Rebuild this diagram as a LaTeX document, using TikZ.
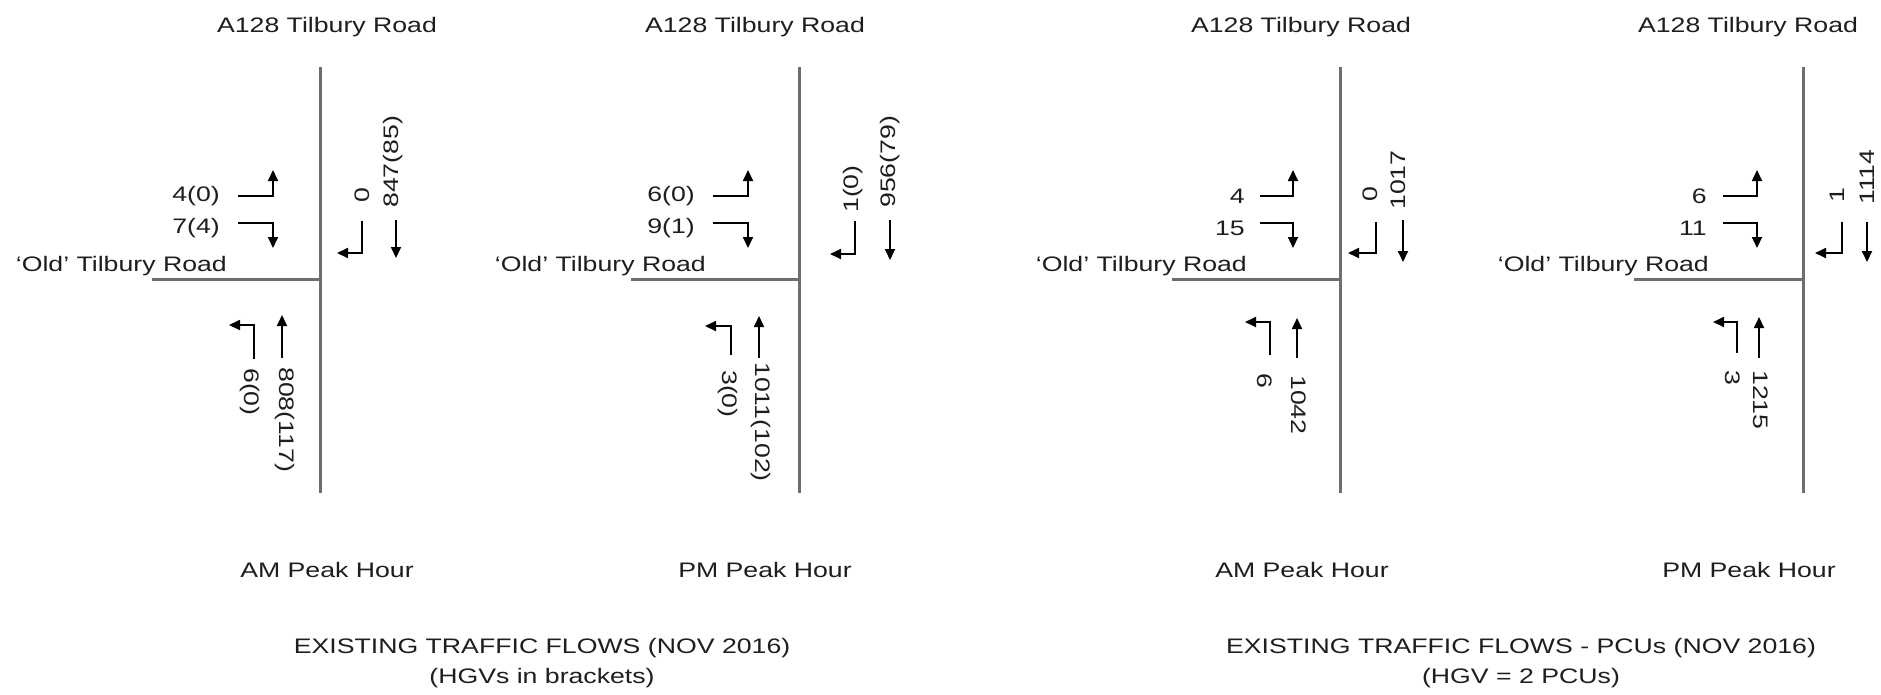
\documentclass[tikz,border=0pt]{standalone}
\usepackage{fontspec}
\usetikzlibrary{arrows.meta}
\newfontfamily\labfont[FakeStretch=1.27]{Liberation Sans}
\definecolor{roadgray}{HTML}{6E6E6E}
\definecolor{txt}{HTML}{1E1E1E}
\begin{document}
\begin{tikzpicture}[x=1pt,y=-1pt,
  road/.style={draw=roadgray, line width=3pt},
  flow/.style={draw=black, line width=1.8pt, -{Triangle[length=11pt,width=10pt]}},
  lbl/.style={inner sep=0pt, text=txt, font={\labfont\fontsize{21}{25}\selectfont}},
  up/.style={lbl, rotate=90, anchor=west},
  dn/.style={lbl, rotate=-90, anchor=west},
  lt/.style={lbl, anchor=east}]
\useasboundingbox[fill=white] (0,0) rectangle (1881,694);

% ---------- Diagram 1: AM (HGVs) ----------
\draw[road] (320,67) -- (320,493);
\draw[road] (152,279) -- (320,279);
\node[lbl] (t1) at (327,27) {A128 Tilbury Road};
\node[lt] (a1) at (220,196) {4(0)};
\draw[flow] (238,196) -- (273,196) -- (273,170);
\node[lt] (b1) at (220,228) {7(4)};
\draw[flow] (238,223) -- (273,223) -- (273,248);
\node[lbl, anchor=base east] (o1) at (227,271) {‘Old’ Tilbury Road};
\node[up] (c1) at (362,203) {0};
\draw[flow] (362,221) -- (362,253) -- (337,253);
\node[up] (d1) at (393,208) {847(85)};
\draw[flow] (396,220) -- (396,258);
\draw[flow] (254,359) -- (254,325) -- (229,325);
\node[dn] (e1) at (250,368) {6(0)};
\draw[flow] (282,358) -- (282,315);
\node[dn] (f1) at (285,367) {808(117)};
\node[lbl] (p1) at (327,570) {AM Peak Hour};

% ---------- Diagram 2: PM (HGVs) ----------
\draw[road] (799,67) -- (799,493);
\draw[road] (631,279) -- (799,279);
\node[lbl] (t2) at (755,27) {A128 Tilbury Road};
\node[lt] (a2) at (695,196) {6(0)};
\draw[flow] (713,196) -- (748,196) -- (748,170);
\node[lt] (b2) at (695,228) {9(1)};
\draw[flow] (713,223) -- (748,223) -- (748,248);
\node[lbl, anchor=base east] (o2) at (706,271) {‘Old’ Tilbury Road};
\node[up] (c2) at (853,213) {1(0)};
\draw[flow] (855,221) -- (855,254) -- (830,254);
\node[up] (d2) at (890,208) {956(79)};
\draw[flow] (890,220) -- (890,260);
\draw[flow] (731,355) -- (731,326) -- (705,326);
\node[dn] (e2) at (728,370) {3(0)};
\draw[flow] (759,358) -- (759,316);
\node[dn] (f2) at (761,362) {1011(102)};
\node[lbl] (p2) at (765,570) {PM Peak Hour};

% ---------- Diagram 3: AM (PCUs) ----------
\draw[road] (1340,67) -- (1340,493);
\draw[road] (1172,279) -- (1340,279);
\node[lbl] (t3) at (1301,27) {A128 Tilbury Road};
\node[lt] (a3) at (1245,196) {4};
\draw[flow] (1260,196) -- (1293,196) -- (1293,170);
\node[lt] (b3) at (1245,228) {15};
\draw[flow] (1260,223) -- (1293,223) -- (1293,248);
\node[lbl, anchor=base east] (o3) at (1247,271) {‘Old’ Tilbury Road};
\node[up] (c3) at (1370,202) {0};
\draw[flow] (1376,222) -- (1376,253) -- (1348,253);
\node[up] (d3) at (1398,210) {1017};
\draw[flow] (1403,220) -- (1403,262);
\draw[flow] (1270,355) -- (1270,322) -- (1245,322);
\node[dn] (e3) at (1265,373) {6};
\draw[flow] (1297,358) -- (1297,318);
\node[dn] (f3) at (1299,375) {1042};
\node[lbl] (p3) at (1302,570) {AM Peak Hour};

% ---------- Diagram 4: PM (PCUs) ----------
\draw[road] (1803,67) -- (1803,493);
\draw[road] (1634,279) -- (1803,279);
\node[lbl] (t4) at (1748,27) {A128 Tilbury Road};
\node[lt] (a4) at (1707,196) {6};
\draw[flow] (1723,196) -- (1757,196) -- (1757,170);
\node[lt] (b4) at (1707,228) {11};
\draw[flow] (1723,223) -- (1757,223) -- (1757,248);
\node[lbl, anchor=base east] (o4) at (1709,271) {‘Old’ Tilbury Road};
\node[up] (c4) at (1837,203) {1};
\draw[flow] (1842,222) -- (1842,253) -- (1815,253);
\node[up] (d4) at (1867,205) {1114};
\draw[flow] (1867,222) -- (1867,262);
\draw[flow] (1737,353) -- (1737,322) -- (1713,322);
\node[dn] (e4) at (1733,370) {3};
\draw[flow] (1759,358) -- (1759,317);
\node[dn] (f4) at (1761,370) {1215};
\node[lbl] (p4) at (1749,570) {PM Peak Hour};

% ---------- Captions ----------
\node[lbl] (cap1) at (542,648) {EXISTING TRAFFIC FLOWS (NOV 2016)};
\node[lbl] (cap1b) at (542,678) {(HGVs in brackets)};
\node[lbl] (cap2) at (1521,648) {EXISTING TRAFFIC FLOWS - PCUs (NOV 2016)};
\node[lbl] (cap2b) at (1521,678) {(HGV = 2 PCUs)};
\end{tikzpicture}
\end{document}
